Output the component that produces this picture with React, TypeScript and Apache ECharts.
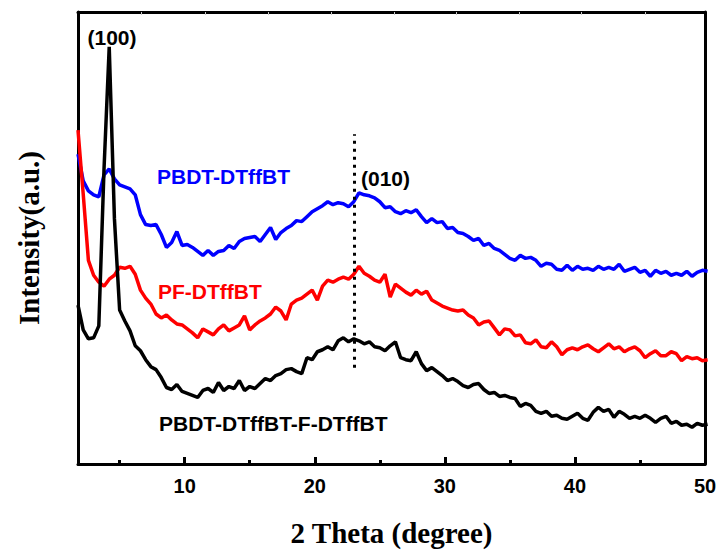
import React, { useEffect, useRef } from "react";
import * as echarts from "echarts";

// 2θ sampling grid (degrees)
const THETA_START = 1.8;
const THETA_STEP = 0.4;

// Intensities (a.u.)
const pbdtDTffBT = [
  312, 285, 275, 271, 269, 291, 297, 287, 281, 279,
  277, 271, 251, 241, 240, 241, 231, 218, 223, 234,
  220, 221, 218, 214, 210, 215, 210, 214, 215, 220,
  217, 224, 227, 228, 229, 224, 231, 238, 226, 233,
  237, 240, 245, 244, 249, 254, 257, 260, 264, 261,
  263, 262, 259, 264, 273, 271, 270, 268, 264, 258,
  259, 254, 252, 255, 253, 256, 249, 243, 247, 243,
  244, 237, 238, 233, 232, 229, 225, 227, 220, 222,
  217, 215, 211, 207, 205, 210, 207, 208, 205, 199,
  202, 201, 196, 195, 200, 195, 199, 196, 197, 195,
  199, 196, 198, 196, 201, 194, 196, 198, 193, 195,
  189, 195, 192, 194, 190, 192, 190, 194, 189, 193,
  195, 194,
];

const pfDTffBT = [
  336, 272, 205, 190, 183, 179, 186, 190, 198, 197,
  199, 191, 175, 167, 161, 151, 147, 150, 145, 141,
  140, 136, 132, 127, 136, 133, 130, 136, 140, 134,
  137, 140, 149, 135, 140, 144, 147, 151, 158, 154,
  145, 161, 165, 167, 171, 175, 165, 179, 185, 183,
  186, 188, 186, 191, 199, 192, 189, 185, 183, 191,
  168, 181, 177, 173, 170, 175, 171, 174, 165, 162,
  159, 157, 155, 154, 155, 150, 147, 140, 143, 144,
  137, 130, 136, 135, 129, 130, 122, 121, 125, 118,
  117, 123, 118, 110, 115, 117, 115, 118, 120, 116,
  113, 117, 121, 116, 118, 113, 116, 118, 114, 107,
  111, 114, 109, 109, 113, 111, 104, 108, 106, 107,
  104, 105,
];

const pbdtDTffBTFDTffBT = [
  160, 135, 126, 127, 139, 297, 420, 247, 155, 144,
  134, 119, 114, 105, 98, 95, 87, 77, 75, 80,
  73, 71, 69, 67, 74, 76, 72, 82, 74, 78,
  76, 84, 74, 78, 76, 81, 86, 84, 89, 91,
  95, 96, 93, 91, 107, 105, 113, 115, 118, 115,
  124, 127, 123, 126, 124, 121, 123, 118, 117, 114,
  119, 123, 107, 105, 104, 113, 101, 94, 97, 93,
  89, 84, 86, 83, 79, 77, 80, 81, 75, 71,
  72, 68, 69, 67, 66, 58, 61, 59, 53, 51,
  53, 48, 49, 46, 45, 48, 51, 46, 44, 52,
  57, 53, 55, 47, 53, 50, 46, 48, 46, 49,
  46, 42, 46, 48, 41, 43, 39, 40, 37, 41,
  39, 40,
];

const MAJOR_TICKS = [10, 20, 30, 40, 50];
const MINOR_TICKS = [5, 15, 25, 35, 45];
const TOP_TICKS = [6.7, 11.6, 16.4, 21.3, 26.1, 30.9, 35.7, 40.5, 45.4];
const X_MIN = 1.8;
const X_MAX = 50;
const Y_MIN = 0;
const Y_MAX = 455;

const PEAK_010_X = 23;
const PEAK_010_Y_RANGE = [97, 332];

const toPairs = (vals: number[]) =>
  vals.map((v, i) => [+(THETA_START + THETA_STEP * i).toFixed(2), v]);

export default function App() {
  const ref = useRef<HTMLDivElement>(null);

  useEffect(() => {
    if (!ref.current) return;
    const chart = echarts.init(ref.current, undefined, { renderer: "svg" });
    const sans = "'Liberation Sans', Arial, sans-serif";
    const serif = "'Liberation Serif', 'Times New Roman', serif";
    const lineW = 3;
    const seriesW = 3.5;

    chart.setOption({
      animation: false,
      backgroundColor: "#ffffff",
      grid: { left: 78, right: 19, top: 12, bottom: 86, containLabel: false },
      xAxis: [
        {
          type: "value",
          position: "bottom",
          min: X_MIN,
          max: X_MAX,
          axisLine: { show: true, lineStyle: { color: "#000", width: lineW } },
          axisTick: {
            show: true,
            inside: true,
            length: 7,
            lineStyle: { color: "#000", width: 3 },
            customValues: MAJOR_TICKS,
          },
          axisLabel: {
            show: true,
            customValues: MAJOR_TICKS,
            margin: 12,
            color: "#000",
            fontFamily: sans,
            fontWeight: "bold",
            fontSize: 20,
          },
          splitLine: { show: false },
          name: "2 Theta (degree)",
          nameLocation: "middle",
          nameGap: 54,
          nameTextStyle: {
            color: "#000",
            fontFamily: serif,
            fontWeight: "bold",
            fontSize: 29,
          },
        },
        {
          type: "value",
          position: "bottom",
          min: X_MIN,
          max: X_MAX,
          axisLine: { show: false },
          axisTick: {
            show: true,
            inside: true,
            length: 4,
            lineStyle: { color: "#000", width: 3 },
            customValues: MINOR_TICKS,
          },
          axisLabel: { show: false },
          splitLine: { show: false },
        },
        {
          type: "value",
          position: "top",
          min: X_MIN,
          max: X_MAX,
          axisLine: { show: true, lineStyle: { color: "#000", width: lineW } },
          axisTick: {
            show: true,
            inside: true,
            length: 3,
            lineStyle: { color: "#c8c8c8", width: 1 },
            customValues: TOP_TICKS,
          },
          axisLabel: { show: false },
          splitLine: { show: false },
        },
      ],
      yAxis: [
        {
          type: "value",
          position: "left",
          min: Y_MIN,
          max: Y_MAX,
          axisLine: { show: true, lineStyle: { color: "#000", width: lineW } },
          axisTick: { show: false },
          axisLabel: { show: false },
          splitLine: { show: false },
          name: "Intensity(a.u.)",
          nameLocation: "middle",
          nameGap: 35,
          nameTextStyle: {
            color: "#000",
            fontFamily: serif,
            fontWeight: "bold",
            fontSize: 29,
          },
        },
        {
          type: "value",
          position: "right",
          min: Y_MIN,
          max: Y_MAX,
          axisLine: { show: true, lineStyle: { color: "#000", width: lineW } },
          axisTick: { show: false },
          axisLabel: { show: false },
          splitLine: { show: false },
        },
      ],
      series: [
        {
          name: "PBDT-DTffBT",
          type: "line",
          xAxisIndex: 0,
          yAxisIndex: 0,
          data: toPairs(pbdtDTffBT),
          showSymbol: false,
          symbol: "none",
          lineStyle: { color: "#0000ff", width: seriesW },
          itemStyle: { color: "#0000ff" },
          clip: true,
        },
        {
          name: "PF-DTffBT",
          type: "line",
          xAxisIndex: 0,
          yAxisIndex: 0,
          data: toPairs(pfDTffBT),
          showSymbol: false,
          symbol: "none",
          lineStyle: { color: "#ff0000", width: seriesW },
          itemStyle: { color: "#ff0000" },
          clip: true,
        },
        {
          name: "PBDT-DTffBT-F-DTffBT",
          type: "line",
          xAxisIndex: 0,
          yAxisIndex: 0,
          data: toPairs(pbdtDTffBTFDTffBT),
          showSymbol: false,
          symbol: "none",
          lineStyle: { color: "#000000", width: seriesW },
          itemStyle: { color: "#000000" },
          clip: true,
          markLine: {
            silent: true,
            symbol: ["none", "none"],
            label: { show: false },
            lineStyle: { color: "#000", width: 3, type: [3, 5] },
            data: [
              [
                { coord: [PEAK_010_X, PEAK_010_Y_RANGE[0]] },
                { coord: [PEAK_010_X, PEAK_010_Y_RANGE[1]] },
              ],
            ],
          },
        },
      ],
      graphic: [
        {
          type: "text",
          x: 112,
          y: 37,
          style: {
            text: "(100)",
            fill: "#000",
            font: `bold 21px ${sans}`,
            align: "center",
            verticalAlign: "middle",
          },
        },
        {
          type: "text",
          x: 361,
          y: 178,
          style: {
            text: "(010)",
            fill: "#000",
            font: `bold 21px ${sans}`,
            align: "left",
            verticalAlign: "middle",
          },
        },
        {
          type: "text",
          x: 157,
          y: 176,
          style: {
            text: "PBDT-DTffBT",
            fill: "#0000ff",
            font: `bold 21px ${sans}`,
            align: "left",
            verticalAlign: "middle",
          },
        },
        {
          type: "text",
          x: 158,
          y: 291,
          style: {
            text: "PF-DTffBT",
            fill: "#ff0000",
            font: `bold 21px ${sans}`,
            align: "left",
            verticalAlign: "middle",
          },
        },
        {
          type: "text",
          x: 159,
          y: 423,
          style: {
            text: "PBDT-DTffBT-F-DTffBT",
            fill: "#000000",
            font: `bold 21px ${sans}`,
            align: "left",
            verticalAlign: "middle",
          },
        },
      ],
    });

    return () => chart.dispose();
  }, []);

  return (
    <div
      ref={ref}
      style={{
        position: "absolute",
        left: 0,
        top: 0,
        width: 724,
        height: 552,
        background: "#fff",
      }}
    />
  );
}
